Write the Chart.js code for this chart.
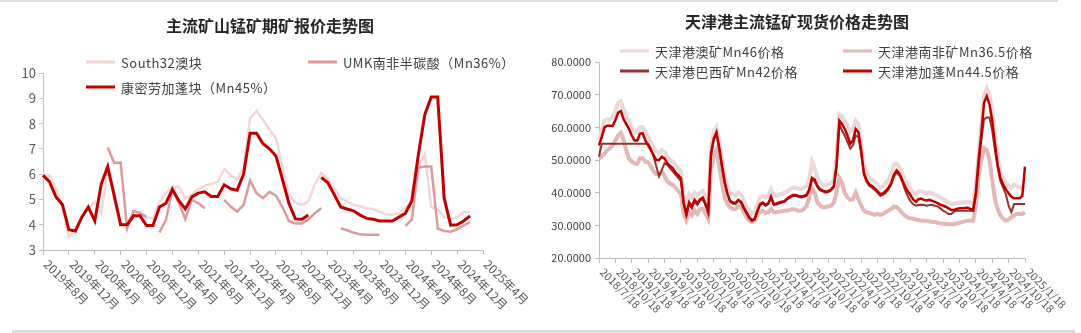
<!DOCTYPE html>
<html>
<head>
<meta charset="utf-8">
<script src="https://cdn.jsdelivr.net/npm/chart.js@4.4.1/dist/chart.umd.min.js"></script>
<style>
body { margin: 0; background: #fff; font-family: "Noto Sans CJK SC", "Noto Sans", sans-serif; }
#wrap { position: relative; width: 1081px; height: 333px; overflow: hidden; }
.panel { position: absolute; top: 0; height: 333px; }
.title { position: absolute; font-weight: bold; font-size: 16px; color: #262626; white-space: nowrap; transform: translate(-50%, -50%); }
.leg { position: absolute; font-size: 13px; color: #404040; white-space: nowrap; display: flex; align-items: center; transform: translateY(-50%); letter-spacing: 0.5px; }
.leg i { display: inline-block; width: 29px; height: 3px; margin-right: 6px; }
.rule { position: absolute; background: #dcdcdc; }
</style>
</head>
<body>
<div id="wrap">
  <div class="rule" style="left:0;top:0;width:1058px;height:2px"></div>
  <div class="rule" style="left:12px;top:330px;width:1063px;height:3px"></div>
  <div class="panel" style="left:0;width:540px"><canvas id="left" width="540" height="333"></canvas></div>
  <div class="panel" style="left:540px;width:541px"><canvas id="right" width="541" height="333"></canvas></div>
  <div class="title" style="left:270px;top:25px">主流矿山锰矿期矿报价走势图</div>
  <div class="title" style="left:797px;top:21px">天津港主流锰矿现货价格走势图</div>
  <div id="legends"></div>
</div>
<script>
// ---- left chart: monthly quotes (2019-08 .. 2025-02) ----
var leftTicks = ['2019年8月', '2019年12月', '2020年4月', '2020年8月', '2020年12月', '2021年4月',
  '2021年8月', '2021年12月', '2022年4月', '2022年8月', '2022年12月', '2023年4月',
  '2023年8月', '2023年12月', '2024年4月', '2024年8月', '2024年12月', '2025年4月'];
var leftNames = ['South32澳块', 'UMK南非半碳酸（Mn36%）', '康密劳加蓬块（Mn45%）'];

var south32 = [6.0, 5.95, 5.45, 4.7, 3.5, 3.85, 4.3, 4.6, 4.9, 4.45,
  6.2, 5.3, 4.05, 3.95, 4.55, 4.5, 4.3, 4.25, 4.9, 5.25,
  5.5, 5.5, 5.05, 5.2, 5.4, 5.55, 5.6, 5.7, 6.2, 5.95,
  5.8, 6.3, 8.2, 8.5, 8.15, 7.76, 7.43, 6.3, 5.18, 4.88,
  4.78, 4.92, 5.58, 6.04, 5.84, 5.44, 5.05, 4.92, 4.78, 4.72,
  4.65, 4.62, 4.52, 4.41, 4.39, 4.45, 4.65, 4.9, 6.3, 6.8,
  4.7, 4.6, 4.3, 4.25, 4.3, 4.5, 4.5];
var umk = [null, null, null, null, null, null, null, null, null, null,
  7.05, 6.45, 6.45, 3.85, 4.55, 4.45, 4.3, null, 3.69, 4.19,
  5.38, 4.85, 4.22, 4.98, 4.85, 4.65, null, null, 4.98, 4.72,
  4.52, 4.78, 5.75, 5.25, 5.05, 5.3, 5.15, 4.7, 4.15, 4.05,
  4.05, 4.2, 4.45, 4.65, null, null, 3.86, 3.78, 3.68, 3.62,
  3.6, 3.6, 3.6, null, null, null, 3.95, 4.2, 6.25, 6.3,
  6.3, 3.85, 3.75, 3.72, 3.82, 3.97, 4.1];
var comilog = [5.95, 5.7, 5.1, 4.8, 3.8, 3.75, 4.3, 4.7, 4.15, 5.6,
  6.3, 5.15, 4.0, 4.0, 4.35, 4.35, 3.97, 3.97, 4.7, 4.85,
  5.4, 4.95, 4.62, 5.1, 5.25, 5.3, 5.12, 5.12, 5.58, 5.42,
  5.36, 6.0, 7.62, 7.62, 7.2, 7.0, 6.72, 5.8, 4.85, 4.23,
  4.22, 4.38, null, 5.87, 5.67, 5.2, 4.7, 4.62, 4.55, 4.38,
  4.25, 4.22, 4.15, 4.15, 4.15, 4.3, 4.45, 4.95, 6.75, 8.35,
  9.05, 9.05, 5.05, 3.98, 4.0, 4.15, 4.35];

// ---- right chart: Tianjin port spot prices, half-month samples (2018/7/18 .. 2025/1/18) ----
var rightTicks = ['2018/7/18', '2018/10/18', '2019/1/18', '2019/4/18', '2019/7/18', '2019/10/18',
  '2020/1/18', '2020/4/18', '2020/7/18', '2020/10/18', '2021/1/18', '2021/4/18', '2021/7/18',
  '2021/10/18', '2022/1/18', '2022/4/18', '2022/7/18', '2022/10/18', '2023/1/18', '2023/4/18',
  '2023/7/18', '2023/10/18', '2024/1/18', '2024/4/18', '2024/7/18', '2024/10/18', '2025/1/18'];
var rightNames = ['天津港澳矿Mn46价格', '天津港南非矿Mn36.5价格', '天津港巴西矿Mn42价格', '天津港加蓬Mn44.5价格'];

var aus46 = [56, 59, 62, 62.5, 62.5, 63, 65, 67.5, 68, 65.5,
  63.5, 62, 60, 58.5, 58.5, 60, 60, 58.5, 57, 55.5,
  54, 52.5, 52, 53, 52.5, 51, 50, 49.5, 48.5, 47.5,
  46.5, 39.5, 36, 39.5, 38.5, 40, 39, 40, 40.5, 38.5,
  37, 54, 58.5, 60, 56, 50.5, 45.5, 42, 40, 39.5,
  39, 40, 39.5, 37.5, 36, 34.5, 33.5, 34, 36.5, 38.5,
  39, 38.5, 39, 41, 39, 39, 39.5, 39.5, 40, 40.5,
  41, 41.5, 41.5, 41.2, 41, 41.5, 42, 44, 49.5, 47.5,
  44.5, 43, 42.5, 42.3, 42.5, 43, 44, 51, 64, 63.5,
  62, 60.5, 58.5, 59.5, 62, 61, 55.5, 48.5, 46, 44.5,
  44, 43.3, 42.5, 41.5, 42, 43, 44, 46, 48.5, 49,
  48, 46, 44, 42.5, 41.3, 40, 39.5, 40.3, 40.5, 40,
  39.8, 40, 39.8, 39.3, 39, 38.5, 38, 37.5, 37, 36.5,
  36.5, 36.8, 37, 37, 37, 37.2, 37, 36.5, 42, 52,
  61, 70, 72, 70, 65, 58, 51, 46.5, 44.5, 43,
  42, 41.5, 42.5, 42, 41.5, 41.5, 42];
var sa365 = [50.5, 51, 52, 53, 53.6, 54.5, 56, 57.5, 58.3, 56,
  53, 50.4, 49.5, 49, 48.8, 50.5, 50.5, 49.5, 49.3, 48,
  46.5, 45.6, 45.6, 46.5, 45, 43.5, 42.8, 42.4, 41.5, 40.5,
  39.5, 33.5, 31.5, 34, 33, 34.5, 33.5, 35, 35, 33.5,
  32, 47, 51, 53, 48, 43, 38.5, 36.6, 35.5, 35,
  35, 35.8, 35.6, 34, 32.5, 31.5, 31, 31.4, 33, 34,
  34.5, 33.8, 34, 35, 34, 34, 34.2, 34.3, 34.5, 34.5,
  34.8, 35, 34.8, 34.5, 34.5, 35, 36, 38.5, 41.5, 40,
  37, 36.1, 35.5, 35.5, 35.8, 36, 37, 40, 44.5, 43,
  40, 38.5, 37.8, 38, 40, 38, 36, 34.5, 34, 33.8,
  33.5, 33.2, 33.5, 33.2, 33.5, 34, 34.5, 35, 35.8, 35.6,
  34.8, 33.8, 33, 32.4, 32.2, 32, 31.8, 31.6, 31.5, 31.4,
  31.4, 31.2, 31, 31, 30.8, 30.6, 30.5, 30.4, 30.3, 30.3,
  30.3, 30.6, 30.8, 31, 31.2, 31.4, 31.4, 31.4, 36, 45,
  50, 53.6, 53, 50, 44, 38, 35, 33, 32, 31.4,
  31.8, 32.5, 33, 33.5, 33.5, 33.5, 34];
var bra42 = [51, 55, 55, 55, 55, 55, 55, 55, 55, 55,
  55, 55, 55, 55, 55, 55, 55, 55, 55, 53.5,
  51, 48, 45, 47, 49, 48.5, 47.5, 46.5, 45.5, 44.5,
  43.5, 36.5, 33, 36.5, 35.2, 37.3, 36.2, 37.5, 38, 36,
  33.5, 51, 56, 58, 53.5, 48, 43, 39.5, 37.2, 36.7,
  36.5, 37.5, 37, 35.2, 33.7, 32.2, 31.3, 31.7, 34.2, 36.2,
  36.7, 36, 36.5, 38.5, 36.2, 36.4, 36.7, 37, 37.2, 38,
  38.5, 39, 39, 38.7, 38.5, 38.7, 39, 40.7, 44, 43.5,
  41.7, 40.7, 40.3, 40, 40.2, 40.7, 41.7, 48, 61, 59,
  57.5, 55.5, 53.5, 54.5, 57.5, 57, 52, 45.5, 43.3, 42,
  41.5, 40.8, 40, 39, 39.3, 40, 41, 42.5, 45, 46.3,
  45.3, 43.5, 41, 39, 37.5, 36.5, 36, 36.2, 36.3, 36.2,
  36, 36.2, 36.2, 36, 35.8, 35.2, 34.5, 34, 33.5, 33.5,
  34.2, 34.5, 34.5, 34.5, 34.5, 34.5, 34.5, 34.3, 39, 48,
  56, 62.5, 63, 63, 59, 53, 47.5, 43.5, 41.5, 39.5,
  36, 34, 36.5, 36.5, 36.5, 36.5, 36.5];
var gab445 = [54.5, 57, 60, 60.5, 60.5, 60.5, 62.2, 64.5, 65, 62.5,
  61, 59.5, 57.5, 56, 56, 58, 58.2, 56, 54.5, 53,
  51.5, 50, 50, 51, 50.5, 49, 48.2, 47.5, 46.2, 45.4,
  44.5, 37, 33.5, 37, 35.7, 37.8, 36.7, 38, 38.5, 36.5,
  34.5, 52, 56.5, 58.5, 54, 48.5, 43.4, 39.8, 37.5, 37,
  36.8, 37.8, 37.2, 35.5, 34, 32.5, 31.6, 32, 34.5, 36.5,
  37, 36.2, 36.8, 38.8, 36.5, 36.7, 37, 37.2, 37.5, 38.3,
  38.8, 39.3, 39.3, 39, 38.8, 39, 39.3, 41, 44.5, 44,
  42, 41, 40.6, 40.3, 40.5, 41, 42, 48.5, 62, 61,
  59.5, 57.5, 55, 56, 59.5, 58.5, 53, 46, 43.8, 42.5,
  42, 41.3, 40.5, 39.5, 39.8, 40.5, 41.5, 43, 45.5, 46.8,
  45.8, 44, 42, 40.5, 39.3, 38, 37.2, 38, 38.2, 37.8,
  37.6, 37.8, 37.5, 37.2, 36.8, 36.3, 36, 35.7, 35.2, 34.7,
  34.7, 35, 35.2, 35.2, 35.3, 35.4, 35, 34.7, 40, 50,
  58, 67.5, 69.5, 67, 62, 55, 48.5, 44.5, 42.5, 41,
  39.8, 38.8, 38.3, 38.3, 38.3, 39, 48];

// category labels
var leftMonths = [];
for (var i = 0; i <= 68; i++) {
  var m = 7 + i; // 0-based month index from Jan 2019
  leftMonths.push((2019 + Math.floor(m / 12)) + '年' + (m % 12 + 1) + '月');
}
var rightDates = [];
for (var j = 0; j < gab445.length; j++) {
  var mm = 6 + Math.floor(j / 2);
  var y = 2018 + Math.floor(mm / 12), mo = mm % 12 + 1;
  if (j % 2 === 0) rightDates.push(y + '/' + mo + '/18');
  else rightDates.push((mo === 12 ? y + 1 : y) + '/' + (mo % 12 + 1) + '/3');
}

var FONT = '"Noto Sans CJK SC", "Noto Sans", sans-serif';
var axisGrey = '#bfbfbf';

// draws the x tick labels slanting down to the right, as in the original
function slantLabels(labels, every, angle, size, dy) {
  return {
    id: 'slant',
    afterDraw: function (chart) {
      var sx = chart.scales.x, ctx = chart.ctx;
      ctx.save();
      ctx.font = size + 'px ' + FONT;
      ctx.fillStyle = '#595959';
      ctx.textAlign = 'left';
      ctx.textBaseline = 'middle';
      labels.forEach(function (t, k) {
        var x = sx.getPixelForValue(k * every);
        ctx.save();
        ctx.translate(x + 3, sx.top + dy);
        ctx.rotate(angle * Math.PI / 180);
        ctx.fillText(t, 0, 0);
        ctx.restore();
      });
      ctx.restore();
    }
  };
}

function xAxis(every, h) {
  return {
    type: 'category',
    offset: false,
    grid: {
      drawOnChartArea: false, drawTicks: true, tickLength: 5,
      tickColor: function (c) { return c.index % every === 0 ? axisGrey : 'rgba(0,0,0,0)'; }
    },
    border: { color: axisGrey, width: 1 },
    ticks: { display: false, autoSkip: false },
    afterFit: function (s) { s.height = h; }
  };
}

function line(label, data, color, width, order) {
  return {
    label: label, data: data, borderColor: color, backgroundColor: color,
    borderWidth: width, pointRadius: 0, tension: 0, fill: false, spanGaps: false, order: order
  };
}

var leftColors = ['#f3d6d6', '#dc9a9b', '#c00000'];
var leftChart = new Chart(document.getElementById('left'), {
  type: 'line',
  data: {
    labels: leftMonths,
    datasets: [
      line(leftNames[0], south32, leftColors[0], 2.5, 2),
      line(leftNames[1], umk, leftColors[1], 2.5, 1),
      line(leftNames[2], comilog, leftColors[2], 3, 0)
    ]
  },
  options: {
    responsive: false, animation: false, devicePixelRatio: 1,
    layout: { padding: { left: 0, top: 73, right: 57, bottom: 0 } },
    plugins: { legend: { display: false }, title: { display: false }, tooltip: { enabled: false } },
    scales: {
      x: xAxis(4, 83),
      y: {
        min: 3, max: 10,
        ticks: { stepSize: 1, color: '#595959', font: { size: 13, family: FONT }, padding: 3 },
        grid: { drawOnChartArea: false, tickLength: 4, tickColor: axisGrey },
        border: { color: axisGrey },
        afterFit: function (s) { s.width = 43; }
      }
    }
  },
  plugins: [slantLabels(leftTicks, 4, 45, 12, 12)]
});

var rightColors = ['#ecd8d8', '#e4b7b7', '#963232', '#c00000'];
var rightChart = new Chart(document.getElementById('right'), {
  type: 'line',
  data: {
    labels: rightDates,
    datasets: [
      line(rightNames[0], aus46, rightColors[0], 4, 3),
      line(rightNames[1], sa365, rightColors[1], 4, 2),
      line(rightNames[2], bra42, rightColors[2], 2, 1),
      line(rightNames[3], gab445, rightColors[3], 2.5, 0)
    ]
  },
  options: {
    responsive: false, animation: false, devicePixelRatio: 1,
    layout: { padding: { left: 0, top: 62, right: 56, bottom: 0 } },
    plugins: { legend: { display: false }, title: { display: false }, tooltip: { enabled: false } },
    scales: {
      x: xAxis(6, 75),
      y: {
        min: 20, max: 80,
        ticks: {
          stepSize: 10, color: '#404040', font: { size: 11, family: FONT }, padding: 4,
          callback: function (v) { return v.toFixed(4); }
        },
        grid: { drawOnChartArea: false, tickLength: 4, tickColor: axisGrey },
        border: { color: axisGrey },
        afterFit: function (s) { s.width = 59; }
      }
    }
  },
  plugins: [slantLabels(rightTicks, 6, 45, 11, 12)]
});

// legends built from the chart datasets
var legendSpots = [
  [leftChart, 0, 86, 62], [leftChart, 1, 308, 62], [leftChart, 2, 86, 87],
  [rightChart, 0, 620, 51], [rightChart, 1, 843, 51], [rightChart, 2, 620, 71], [rightChart, 3, 843, 71]
];
var box = document.getElementById('legends');
legendSpots.forEach(function (s) {
  var ds = s[0].data.datasets[s[1]];
  var d = document.createElement('div');
  d.className = 'leg';
  d.style.left = s[2] + 'px';
  d.style.top = s[3] + 'px';
  d.innerHTML = '<i style="background:' + ds.borderColor + '"></i>' + ds.label;
  box.appendChild(d);
});
</script>
</body>
</html>
